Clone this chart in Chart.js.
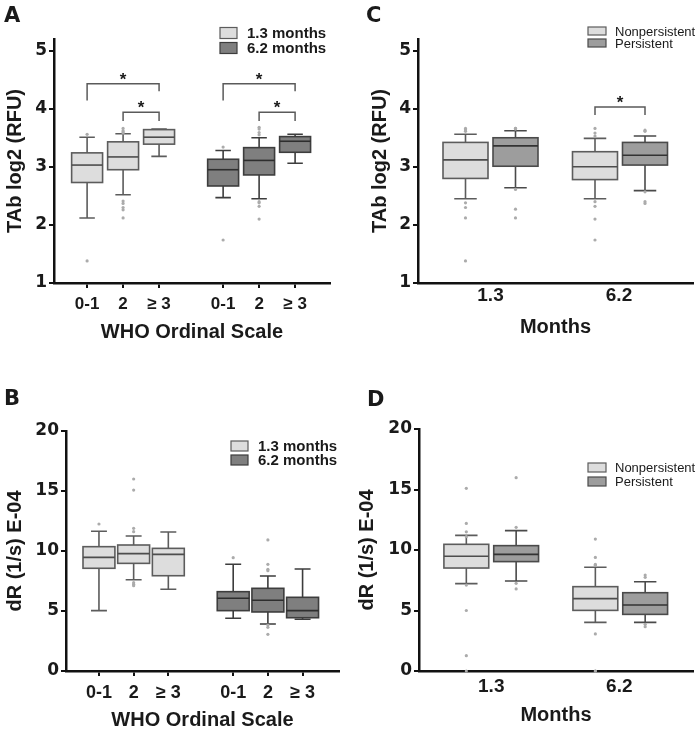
<!DOCTYPE html>
<html>
<head>
<meta charset="utf-8">
<script src="https://cdn.jsdelivr.net/npm/chart.js@4.4.1/dist/chart.umd.min.js"></script>
<style>
  body { margin: 0; background: #fff; }
  #wrap { position: relative; width: 700px; height: 731px; }
  canvas { position: absolute; }
  .tag { position: absolute; font: bold 21px "DejaVu Sans", sans-serif; line-height: 1; color: #1a1a1a; }
</style>
</head>
<body>
<div id="wrap">
  <canvas id="cA" width="350" height="365" style="left:0;top:0"></canvas>
  <canvas id="cC" width="350" height="365" style="left:350px;top:0"></canvas>
  <canvas id="cB" width="350" height="366" style="left:0;top:365px"></canvas>
  <canvas id="cD" width="350" height="366" style="left:350px;top:365px"></canvas>
  <div class="tag" style="left:4px;top:5px">A</div>
  <div class="tag" style="left:366px;top:5px">C</div>
  <div class="tag" style="left:4px;top:388px">B</div>
  <div class="tag" style="left:367px;top:389px">D</div>
</div>
<script>
const whoLabels = ["0-1", "2", "≥ 3", "0-1", "2", "≥ 3"];
const monthLabels = ["1.3", "6.2"];
const whoLegend = ["1.3 months", "6.2 months"];
const persistLegend = ["Nonpersistent", "Persistent"];

// A: TAb log2 (RFU) by WHO scale, 1.3 months (first three) then 6.2 months
const tabWhoLow = [2.12, 2.52, 3.18, 2.47, 2.45, 3.06];
const tabWhoQ1 = [2.73, 2.95, 3.39, 2.67, 2.86, 3.25];
const tabWhoMed = [3.03, 3.17, 3.51, 2.95, 3.11, 3.44];
const tabWhoQ3 = [3.24, 3.43, 3.64, 3.13, 3.33, 3.52];
const tabWhoHigh = [3.51, 3.57, 3.65, 3.28, 3.5, 3.56];
const tabWhoOut = [
  [3.56, 1.38],
  [3.66, 3.62, 3.6, 3.58, 2.41, 2.37, 2.3, 2.26, 2.12],
  [],
  [3.34, 1.74],
  [3.68, 3.65, 3.59, 3.55, 2.4, 2.38, 2.32, 2.1],
  [],
];
// [from, to, top, left leg end, right leg end]
const tabWhoSig = [[0, 2, 4.43, 4.14, 4.3], [1, 2, 3.94, 3.79, 3.79], [3, 5, 4.43, 4.14, 4.3], [4, 5, 3.94, 3.79, 3.79]];

// B: dR (1/s) E-04 by WHO scale
const drWhoLow = [5.03, 7.61, 6.81, 4.39, 3.92, 4.31];
const drWhoQ1 = [8.56, 8.97, 7.94, 5.03, 4.92, 4.44];
const drWhoMed = [9.47, 9.78, 9.72, 6.06, 5.89, 5.03];
const drWhoQ3 = [10.36, 10.5, 10.22, 6.61, 6.89, 6.14];
const drWhoHigh = [11.64, 11.25, 11.58, 8.89, 7.92, 8.5];
const drWhoOut = [
  [12.25],
  [16.0, 15.08, 11.89, 11.61, 7.36, 7.22, 7.11],
  [],
  [9.44],
  [10.92, 8.89, 8.47, 8.36, 3.83, 3.64, 3.06],
  [],
];

// C: TAb log2 (RFU), nonpersistent / persistent at 1.3 and 6.2 months
const tabPerLow = [2.45, 2.64, 2.45, 2.59];
const tabPerQ1 = [2.8, 3.01, 2.78, 3.03];
const tabPerMed = [3.12, 3.36, 3.0, 3.2];
const tabPerQ3 = [3.42, 3.5, 3.26, 3.42];
const tabPerHigh = [3.56, 3.62, 3.49, 3.53];
const tabPerOut = [
  [3.66, 3.64, 3.61, 2.38, 2.3, 2.12, 1.38],
  [3.66, 3.66, 3.65, 2.61, 2.27, 2.12],
  [3.66, 3.58, 3.53, 2.4, 2.32, 2.1, 1.74],
  [3.63, 3.61, 2.57, 2.4, 2.37],
];
const tabPerSig = [[2, 3, 4.03, 3.89, 3.89]];

// D: dR (1/s) E-04, nonpersistent / persistent
const drPerLow = [7.22, 7.44, 4.02, 4.02];
const drPerQ1 = [8.51, 9.04, 5.01, 4.68];
const drPerMed = [9.48, 9.64, 5.98, 5.45];
const drPerQ3 = [10.47, 10.36, 6.97, 6.47];
const drPerHigh = [11.21, 11.6, 8.57, 7.38];
const drPerOut = [
  [15.1, 12.2, 11.5, 11.1, 7.1, 5.0, 1.27, 0],
  [15.98, 11.87, 7.25, 6.78],
  [10.9, 9.39, 8.82, 8.73, 3.06, 0, 0],
  [7.93, 7.74, 3.86, 3.66],
];

const FONT = '"Liberation Sans", Arial, sans-serif';
const WIDE = '"DejaVu Sans", sans-serif';
Chart.defaults.font.family = FONT;
Chart.defaults.color = "#1a1a1a";

const LIGHT = { fill: "#dddddd", line: "#5c5c5c", med: "#4d4d4d" };
const DARK = { fill: "#7f7f7f", line: "#3d3d3d", med: "#2e2e2e" };
const MID = { fill: "#9d9d9d", line: "#4a4a4a", med: "#333333" };

function boxPlot(spec) {
  return {
    id: "boxPlot",
    beforeDatasetsDraw(chart) {
      const { ctx, scales: { x, y } } = chart;
      ctx.save();
      spec.pos.forEach((p, i) => {
        const st = spec.styles[i];
        const cx = x.getPixelForValue(p);
        const hw = x.getPixelForValue(p + spec.half) - cx;
        const yLo = y.getPixelForValue(spec.low[i]);
        const yQ1 = y.getPixelForValue(spec.q1[i]);
        const yMed = y.getPixelForValue(spec.med[i]);
        const yQ3 = y.getPixelForValue(spec.q3[i]);
        const yHi = y.getPixelForValue(spec.high[i]);
        ctx.strokeStyle = st.line;
        ctx.lineWidth = 1.6;
        ctx.beginPath();
        ctx.moveTo(cx, yLo); ctx.lineTo(cx, yHi);
        ctx.moveTo(cx - hw / 2, yLo); ctx.lineTo(cx + hw / 2, yLo);
        ctx.moveTo(cx - hw / 2, yHi); ctx.lineTo(cx + hw / 2, yHi);
        ctx.stroke();
        ctx.fillStyle = st.fill;
        ctx.fillRect(cx - hw, yQ3, 2 * hw, yQ1 - yQ3);
        ctx.strokeRect(cx - hw, yQ3, 2 * hw, yQ1 - yQ3);
        ctx.strokeStyle = st.med;
        ctx.beginPath();
        ctx.moveTo(cx - hw, yMed); ctx.lineTo(cx + hw, yMed);
        ctx.stroke();
      });
      ctx.restore();
    },
    afterDraw(chart) {
      const { ctx, scales: { x, y } } = chart;
      ctx.save();
      // significance brackets
      (spec.sig || []).forEach(([a, b, top, l, r]) => {
        const xa = x.getPixelForValue(spec.pos[a]);
        const xb = x.getPixelForValue(spec.pos[b]);
        const yt = y.getPixelForValue(top);
        ctx.strokeStyle = "#5a5a5a";
        ctx.lineWidth = 1.5;
        ctx.beginPath();
        ctx.moveTo(xa, y.getPixelForValue(l));
        ctx.lineTo(xa, yt);
        ctx.lineTo(xb, yt);
        ctx.lineTo(xb, y.getPixelForValue(r));
        ctx.stroke();
        ctx.fillStyle = "#1a1a1a";
        ctx.font = "bold 17px " + FONT;
        ctx.textAlign = "center";
        ctx.textBaseline = "alphabetic";
        ctx.fillText("*", (xa + xb) / 2, yt + 1);
      });
      // legend
      const lg = spec.legend;
      lg.labels.forEach((t, k) => {
        const sy = lg.y[k];
        const st = k === 0 ? LIGHT : lg.second;
        ctx.fillStyle = st.fill;
        ctx.strokeStyle = st.line;
        ctx.lineWidth = 1.2;
        ctx.fillRect(lg.x, sy - lg.h / 2, lg.w, lg.h);
        ctx.strokeRect(lg.x, sy - lg.h / 2, lg.w, lg.h);
        ctx.fillStyle = "#1a1a1a";
        ctx.font = lg.font;
        ctx.textAlign = "left";
        ctx.textBaseline = "middle";
        ctx.fillText(t, lg.x + lg.w + lg.gap, sy + 1);
      });
      ctx.restore();
    },
  };
}

function makePanel(id, spec) {
  new Chart(document.getElementById(id), {
    type: "scatter",
    data: {
      datasets: [{
        data: spec.pos.flatMap((p, i) => spec.out[i].map((v) => ({ x: p, y: v }))),
        pointRadius: 1.6,
        pointBackgroundColor: "#ababab",
        pointBorderWidth: 0,
        clip: false,
      }],
    },
    options: {
      responsive: false,
      animation: false,
      events: [],
      layout: { padding: spec.pad },
      plugins: { legend: { display: false }, tooltip: { enabled: false } },
      scales: {
        x: {
          type: "linear",
          min: spec.xMin,
          max: spec.xMax,
          afterFit: (s) => { s.height = spec.xH; },
          afterBuildTicks: (s) => { s.ticks = spec.tickPos.map((v) => ({ value: v })); },
          ticks: {
            autoSkip: false,
            maxRotation: 0,
            padding: spec.xPad,
            font: { size: spec.xFont, weight: "bold" },
            callback: (v, i) => spec.tickLabels[i],
          },
          grid: { drawOnChartArea: false, drawTicks: spec.xTicks, tickLength: 5, color: "#111", lineWidth: 2 },
          border: { display: true, color: "#111", width: 2.5 },
          title: {
            display: true,
            text: spec.xTitle,
            font: { size: 20, weight: "bold", lineHeight: 1 },
            padding: { top: 0, bottom: spec.xTitlePad },
          },
        },
        y: {
          min: spec.yMin,
          max: spec.yMax,
          afterFit: (s) => { s.width = spec.yW; },
          ticks: {
            stepSize: spec.yStep,
            includeBounds: false,
            padding: 2,
            font: { family: WIDE, size: 17, weight: "bold" },
          },
          grid: { drawOnChartArea: false, drawTicks: true, tickLength: 5, color: "#111", lineWidth: 2 },
          border: { display: true, color: "#111", width: 2.5 },
          title: {
            display: true,
            text: spec.yTitle,
            font: { size: 20, weight: "bold", lineHeight: 1 },
            padding: { top: spec.yTitlePad, bottom: 0 },
          },
        },
      },
    },
    plugins: [boxPlot(spec)],
  });
}

const whoPos = [1, 2, 3, 4.78, 5.78, 6.78];
const whoPosB = [1, 2, 3, 4.87, 5.87, 6.87];
const perPos = [1, 2, 3.59, 4.59];

makePanel("cA", {
  pos: whoPos, half: 0.43, styles: [LIGHT, LIGHT, LIGHT, DARK, DARK, DARK],
  low: tabWhoLow, q1: tabWhoQ1, med: tabWhoMed, q3: tabWhoQ3, high: tabWhoHigh, out: tabWhoOut, sig: tabWhoSig,
  tickPos: whoPos, tickLabels: whoLabels, xTicks: true, xPad: 6, xFont: 17,
  xMin: 0.08, xMax: 7.75, yMin: 1, yMax: 5.2, yStep: 1,
  pad: { top: 39, right: 20, bottom: 0, left: 0 }, yW: 54, xH: 82,
  xTitle: "WHO Ordinal Scale", xTitlePad: 23, yTitle: "TAb log2 (RFU)", yTitlePad: 5,
  legend: { labels: whoLegend, x: 220, y: [33, 48], w: 17, h: 11, gap: 10, font: "bold 15px " + FONT, second: DARK },
});

makePanel("cB", {
  pos: whoPosB, half: 0.46, styles: [LIGHT, LIGHT, LIGHT, DARK, DARK, DARK],
  low: drWhoLow, q1: drWhoQ1, med: drWhoMed, q3: drWhoQ3, high: drWhoHigh, out: drWhoOut,
  tickPos: whoPosB, tickLabels: whoLabels, xTicks: true, xPad: 6, xFont: 18,
  xMin: 0.05, xMax: 7.92, yMin: 0, yMax: 20, yStep: 5,
  pad: { top: 66, right: 11, bottom: 0, left: 0 }, yW: 66, xH: 60,
  xTitle: "WHO Ordinal Scale", xTitlePad: 1, yTitle: "dR (1/s) E-04", yTitlePad: 5,
  legend: { labels: whoLegend, x: 231, y: [81, 95], w: 17, h: 10, gap: 10, font: "bold 15px " + FONT, second: DARK },
});

makePanel("cC", {
  pos: perPos, half: 0.45, styles: [LIGHT, MID, LIGHT, MID],
  low: tabPerLow, q1: tabPerQ1, med: tabPerMed, q3: tabPerQ3, high: tabPerHigh, out: tabPerOut, sig: tabPerSig,
  tickPos: [1.5, 4.07], tickLabels: monthLabels, xTicks: false, xPad: 1, xFont: 19,
  xMin: 0.05, xMax: 5.55, yMin: 1, yMax: 5.2, yStep: 1,
  pad: { top: 39, right: 7, bottom: 0, left: 0 }, yW: 68, xH: 82,
  xTitle: "Months", xTitlePad: 28, yTitle: "TAb log2 (RFU)", yTitlePad: 20,
  legend: { labels: persistLegend, x: 238, y: [31, 43], w: 18, h: 8, gap: 9, font: "13px " + FONT, second: MID },
});

makePanel("cD", {
  pos: perPos, half: 0.45, styles: [LIGHT, MID, LIGHT, MID],
  low: drPerLow, q1: drPerQ1, med: drPerMed, q3: drPerQ3, high: drPerHigh, out: drPerOut,
  tickPos: [1.5, 4.07], tickLabels: monthLabels, xTicks: false, xPad: 4, xFont: 19,
  xMin: 0.05, xMax: 5.55, yMin: 0, yMax: 20, yStep: 5,
  pad: { top: 64, right: 7, bottom: 0, left: 0 }, yW: 69, xH: 60,
  xTitle: "Months", xTitlePad: 6, yTitle: "dR (1/s) E-04", yTitlePad: 7,
  legend: { labels: persistLegend, x: 238, y: [102.5, 116.5], w: 18, h: 9, gap: 9, font: "13px " + FONT, second: MID },
});
</script>
</body>
</html>
